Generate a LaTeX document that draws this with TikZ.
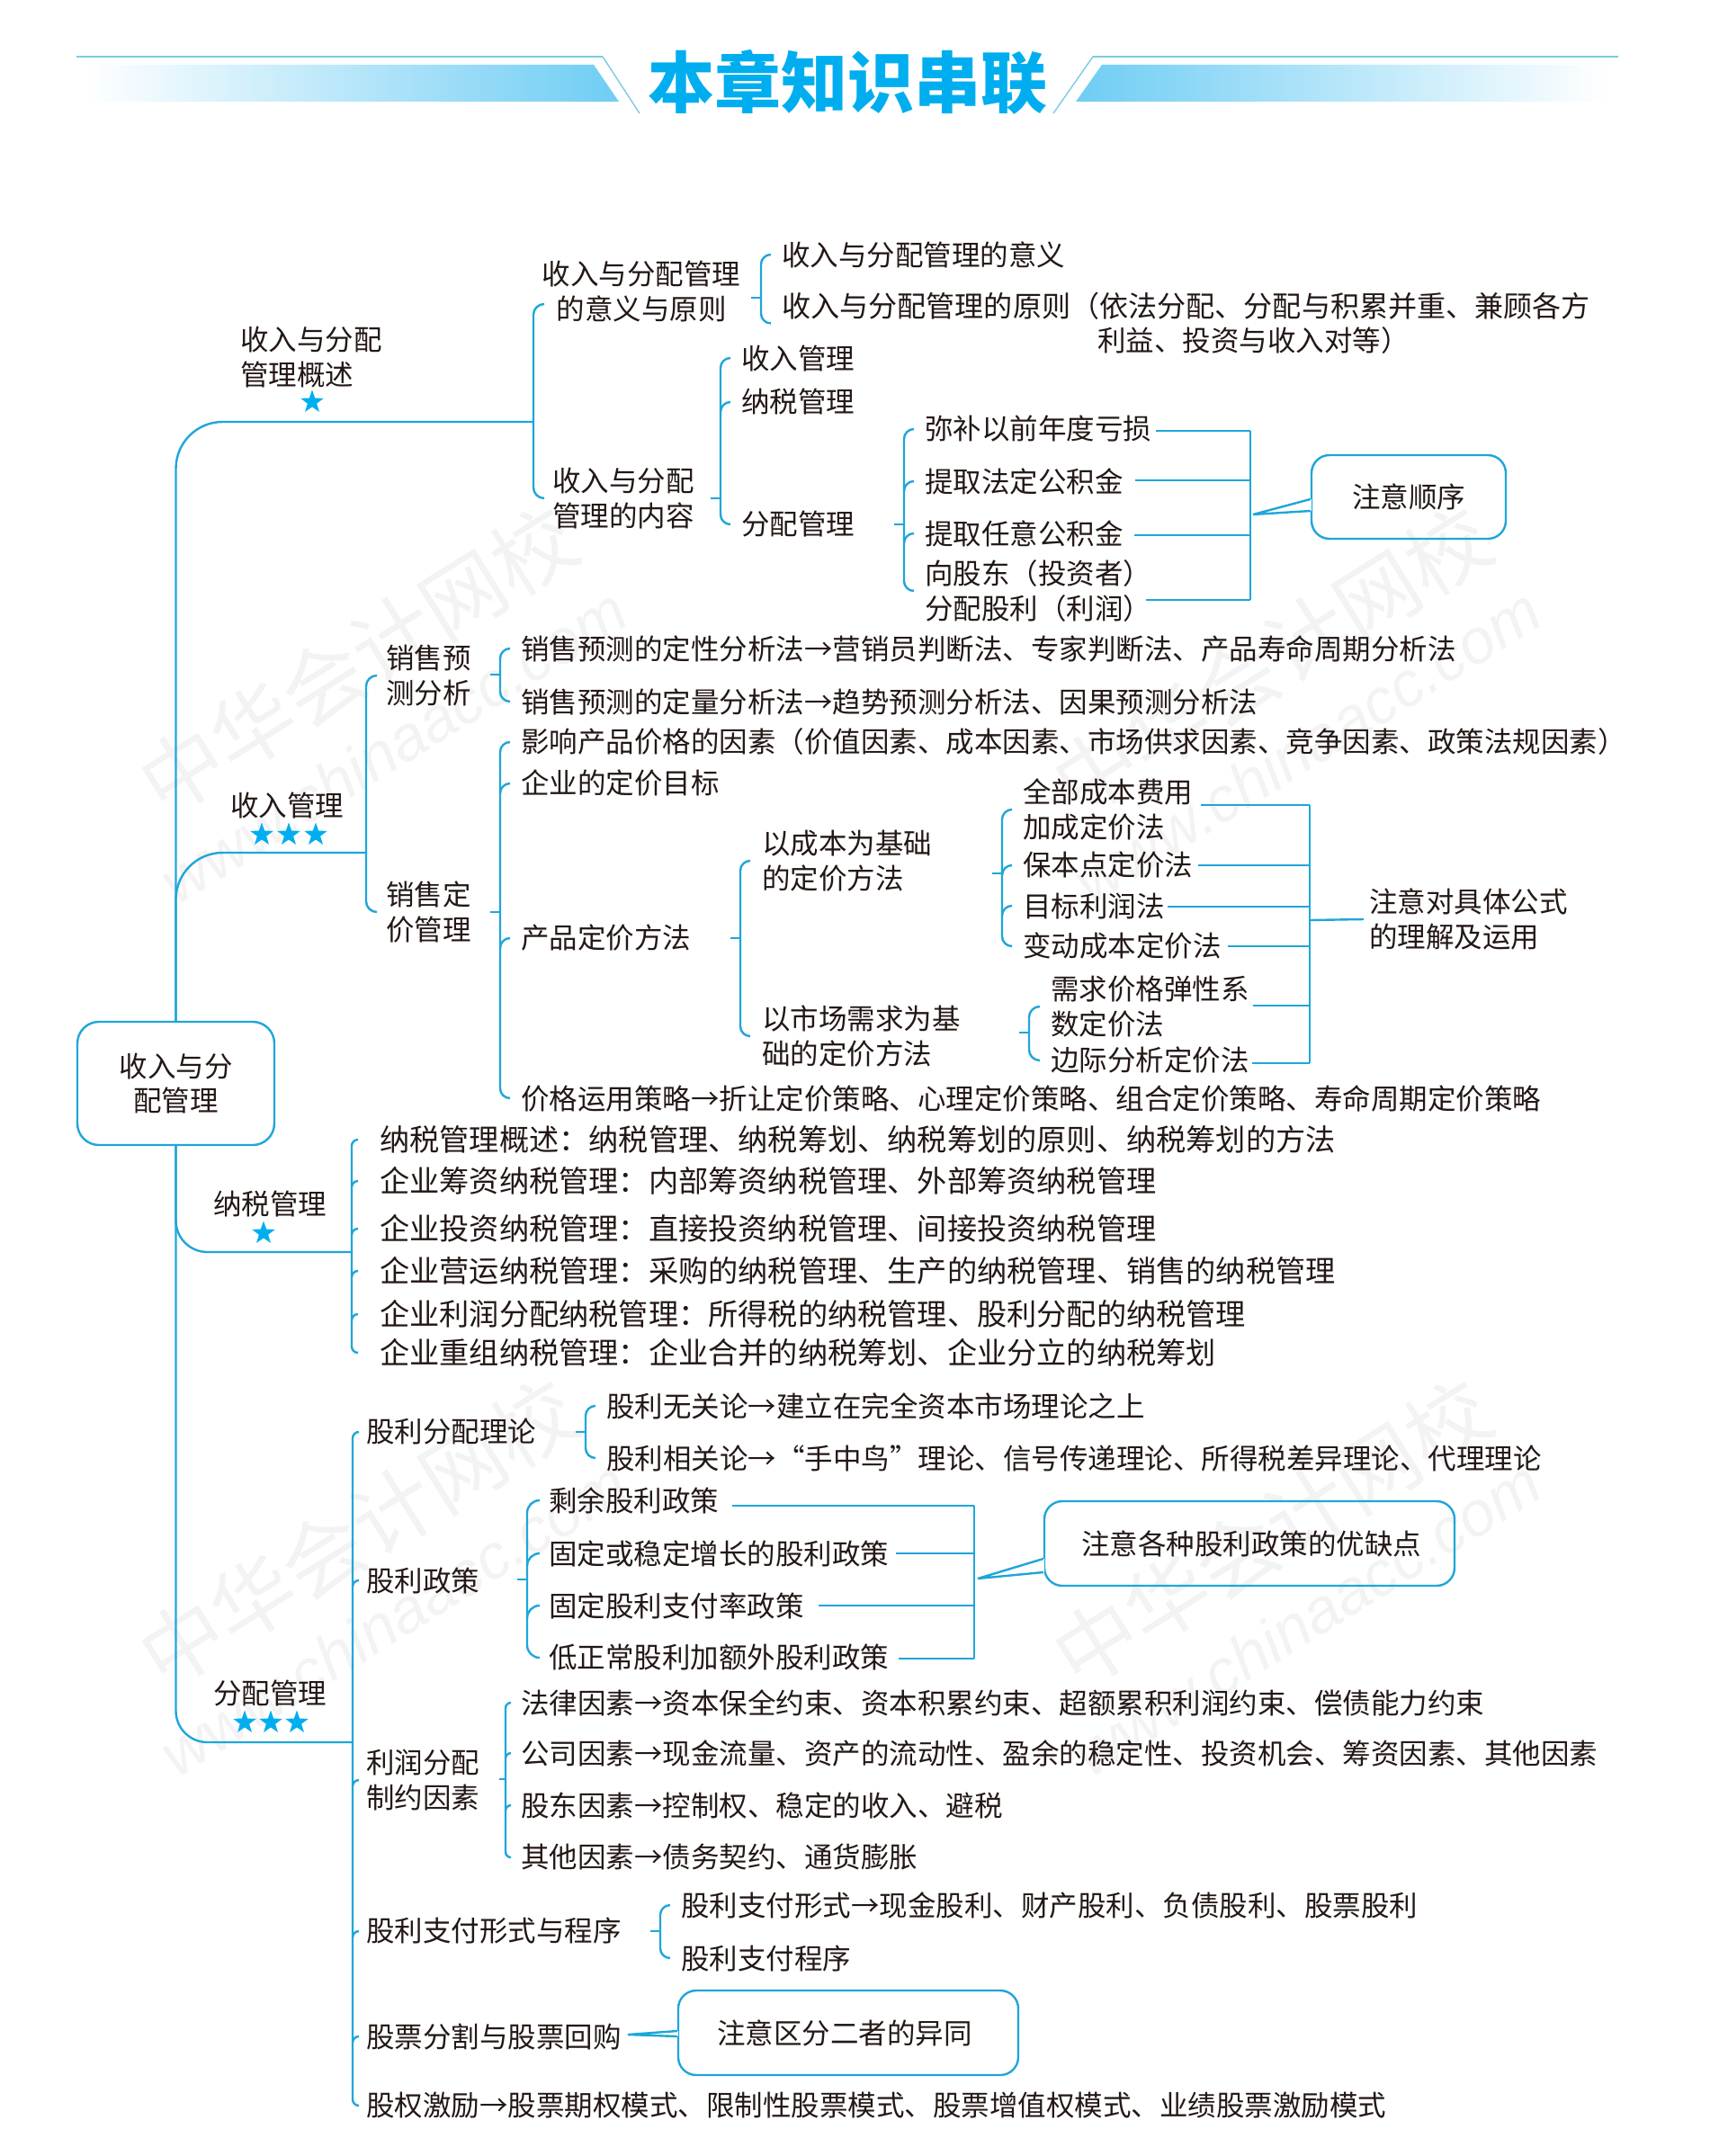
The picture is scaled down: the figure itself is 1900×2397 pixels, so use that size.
\documentclass[tikz,border=0pt]{standalone}
\usepackage{fontspec}
\setmainfont{Noto Sans CJK SC}
\newfontfamily\wmfont{Liberation Sans}
\usetikzlibrary{calc,shapes.geometric}
\definecolor{linec}{HTML}{1FA6D9}
\definecolor{starc}{HTML}{00AEEF}
\definecolor{bandc}{HTML}{6FCDF4}
\definecolor{barc}{HTML}{7CCBE0}
\definecolor{txtc}{HTML}{231815}
\definecolor{wmc}{HTML}{F3F3F3}
\tikzset{
    every node/.style={font=\fontsize{31.5}{38.5}\selectfont,text=txtc},
    lbl/.style={anchor=west,inner xsep=#1,xshift=-#1,inner ysep=0pt,align=left},
    lbl/.default=12pt,
    conn/.style={draw=linec,line width=2.4pt},
    callout/.style={draw=linec,line width=2.4pt,rounded corners=20pt,align=center},
    starmark/.style={star,star points=5,star point ratio=2.5,fill=starc,inner sep=0pt,minimum size=27pt},
}
\newcommand{\brspine}[3][11]{\draw[conn] (#2) to[out=180,in=90] ++(-#1,#1) -- ($(#3)+(-#1,-#1)$) to[out=-90,in=180] (#3);}
\newcommand{\brnub}[2][11]{\draw[conn] (#2) to[out=180,in=90] ++(-#1,#1);}
\newcommand{\brstem}[2][11]{\draw[conn] (#2) -- ++(-#1,0);}
\newcommand{\rline}[3][0,0]{\coordinate (rtmp) at ($(#2.east)+(#1)$); \draw[conn] (rtmp) -- (rtmp -| #3);}
\newcommand{\calltail}[4]{\draw[white,line width=3pt] (#1.west |- 0,#3) -- (#1.west |- 0,#4); \draw[conn] (#1.west |- 0,#3) -- (#2) -- (#1.west |- 0,#4);}
\begin{document}
\begin{tikzpicture}[x=1pt,y=-1pt]
    \useasboundingbox (0,0) rectangle (1900,2397);

    \foreach \wx in {0,1016}
      \foreach \wy in {0,970} {
        \node[rotate=32,font=\fontsize{92}{92}\selectfont,text=wmc] (wmcn\wx\wy) at (398+\wx,734+\wy) {中华会计网校};
        \node[rotate=32,font=\wmfont\itshape\fontsize{70}{70}\selectfont,text=wmc] (wmen\wx\wy) at (437+\wx,829+\wy) {www.chinaacc.com};
      }

    \draw[barc,line width=2.6pt] (85,63) -- (670,63);
    \draw[barc,line width=1.4pt] (670,63) -- (711,126);
    \draw[barc,line width=2.6pt] (1799,63) -- (1215,63);
    \draw[barc,line width=1.4pt] (1215,63) -- (1171,126);
    \shade[left color=white,right color=bandc] (94,72) -- (660,72) -- (688,113) -- (94,113) -- cycle;
    \shade[left color=bandc,right color=white] (1225,72) -- (1787,72) -- (1787,113) -- (1196,113) -- cycle;
    \node[font=\bfseries\fontsize{74}{74}\selectfont,text=starc] (title) at (942,91) {本章知识串联};

    \node[draw=linec,line width=2.4pt,rounded corners=24pt,minimum width=219pt,minimum height=137pt,align=center] (root) at (195.5,1204.5) {收入与分\\配管理};

    \coordinate (jGailan) at (593,469);
    \coordinate (jShouru) at (408,948);
    \coordinate (jNashui) at (392,1392);
    \coordinate (jFenpei) at (392,1937);
    \draw[conn,rounded corners=52pt] (root.north) |- (jGailan);
    \draw[conn,rounded corners=52pt] (root.north) |- (jShouru);
    \draw[conn,rounded corners=35pt] (root.south) |- (jNashui);
    \draw[conn,rounded corners=35pt] (root.south) |- (jFenpei);

    \node[lbl=0pt] (gailan) at (267,397) {收入与分配\\管理概述};
    \node[starmark] (st0) at (347,447) {};
    \node[lbl=0pt] (shouruL) at (256,895) {收入管理};
    \foreach \sx [count=\i] in {291,321,351}
      \node[starmark] (sa\i) at (\sx,928) {};
    \node[lbl=0pt] (nashuiL) at (237,1338) {纳税管理};
    \node[starmark] (st1) at (293,1371) {};
    \node[lbl=0pt] (fenpeiL) at (237,1882) {分配管理};
    \foreach \sx [count=\i] in {272,301,330}
      \node[starmark] (sb\i) at (\sx,1915) {};

    \node[align=center,inner xsep=12pt] (yiyi) at (713,324) {收入与分配管理\\的意义与原则};
    \node[lbl=9pt] (neirong) at (614,554) {收入与分配\\管理的内容};
    \coordinate (pYiyi) at (605,338);
    \brspine[12]{pYiyi}{neirong.west}

    \node[lbl] (yiyiA) at (869,283) {收入与分配管理的意义};
    \node[lbl] (yiyiB) at (869,359.5) {\fontsize{32.1}{38.5}\selectfont 收入与分配管理的原则（依法分配、分配与积累并重、兼顾各方\\\hspace*{351pt}\fontsize{31.5}{38.5}\selectfont 利益、投资与收入对等）};
    \brspine{yiyiA.west}{yiyiB.west}
    \coordinate (jYiyi) at (846,331);
    \brstem{jYiyi}

    \node[lbl] (nrA) at (824,398) {收入管理};
    \node[lbl] (nrB) at (824,447) {纳税管理};
    \node[lbl] (nrC) at (824,583) {分配管理};
    \brspine{nrA.west}{nrC.west}
    \brnub{nrB.west}
    \coordinate (jNeirong) at (801,554);
    \brstem{jNeirong}

    \node[lbl] (mibu) at (1028,477) {弥补以前年度亏损};
    \node[lbl] (fading) at (1028,535) {提取法定公积金};
    \node[lbl] (renyi) at (1028,593) {提取任意公积金};
    \node[lbl] (gudong) at (1028,657) {向股东（投资者）\\分配股利（利润）};
    \brspine{mibu.west}{gudong.west}
    \brnub{fading.west}
    \brnub{renyi.west}
    \coordinate (jFp) at (1005,583);
    \brstem{jFp}

    \coordinate (rbA1) at (1390,479);
    \coordinate (rbA2) at (1390,667);
    \draw[conn] (rbA1) -- (rbA2);
    \rline[-7,2]{mibu}{rbA1}
    \rline[1,-1]{fading}{rbA1}
    \rline[0,2]{renyi}{rbA1}
    \rline[-18,10]{gudong}{rbA1}
    \node[callout,minimum width=216pt,minimum height=93pt] (shunxu) at (1566,552.5) {注意顺序};
    \coordinate (tipA) at (1393,572);
    \calltail{shunxu}{tipA}{555}{568}

    \node[lbl=10pt] (yuce) at (429,751) {销售预\\测分析};
    \node[lbl=10pt] (dingjia) at (429,1014) {销售定\\价管理};
    \brspine[12]{yuce.west}{dingjia.west}

    \node[lbl] (ycA) at (579,721) {销售预测的定性分析法→营销员判断法、专家判断法、产品寿命周期分析法};
    \node[lbl] (ycB) at (579,780) {销售预测的定量分析法→趋势预测分析法、因果预测分析法};
    \brspine{ycA.west}{ycB.west}
    \coordinate (jYuce) at (556,750);
    \brstem{jYuce}

    \node[lbl] (djA) at (579,825) {影响产品价格的因素（价值因素、成本因素、市场供求因素、竞争因素、政策法规因素）};
    \node[lbl] (djB) at (579,871) {企业的定价目标};
    \node[lbl] (djC) at (579,1043) {产品定价方法};
    \node[lbl] (djD) at (579,1221) {价格运用策略→折让定价策略、心理定价策略、组合定价策略、寿命周期定价策略};
    \brspine{djA.west}{djD.west}
    \brnub{djB.west}
    \brnub{djC.west}
    \coordinate (jDingjia) at (556,1014);
    \brstem{jDingjia}

    \node[lbl=13pt] (chengben) at (847,957) {以成本为基础\\的定价方法};
    \node[lbl=13pt] (shichang) at (847,1152) {以市场需求为基\\础的定价方法};
    \brspine[11]{chengben.west}{shichang.west}
    \coordinate (jFangfa) at (823,1043);
    \brstem{jFangfa}

    \node[lbl] (cbA) at (1137,900) {全部成本费用\\加成定价法};
    \node[lbl] (cbB) at (1137,962) {保本点定价法};
    \node[lbl] (cbC) at (1137,1007) {目标利润法};
    \node[lbl] (cbD) at (1137,1052) {变动成本定价法};
    \brspine{cbA.west}{cbD.west}
    \brnub{cbB.west}
    \brnub{cbC.west}
    \coordinate (jCb) at (1114,971);
    \brstem{jCb}

    \node[lbl] (scA) at (1168,1119) {需求价格弹性系\\数定价法};
    \node[lbl] (scB) at (1168,1179) {边际分析定价法};
    \brspine[12]{scA.west}{scB.west}
    \coordinate (jSc) at (1144,1148);
    \brstem{jSc}

    \coordinate (rbB1) at (1456,895);
    \coordinate (rbB2) at (1456,1182);
    \draw[conn] (rbB1) -- (rbB2);
    \rline[-3,-5]{cbA}{rbB1}
    \rline[-6,0]{cbB}{rbB1}
    \rline[-9,1]{cbC}{rbB1}
    \rline[-5,0]{cbD}{rbB1}
    \rline[-8,-1]{scA}{rbB1}
    \rline[-9,3]{scB}{rbB1}
    \node[lbl=6pt] (gongshi) at (1522,1022) {注意对具体公式\\的理解及运用};
    \coordinate (jNote) at (1456,1023);
    \draw[conn] (jNote) -- (gongshi.west);

    \foreach \nm/\y/\txt in {
        nsA/1267/纳税管理概述：纳税管理、纳税筹划、纳税筹划的原则、纳税筹划的方法,
        nsB/1313/企业筹资纳税管理：内部筹资纳税管理、外部筹资纳税管理,
        nsC/1366/企业投资纳税管理：直接投资纳税管理、间接投资纳税管理,
        nsD/1413/企业营运纳税管理：采购的纳税管理、生产的纳税管理、销售的纳税管理,
        nsE/1461/企业利润分配纳税管理：所得税的纳税管理、股利分配的纳税管理,
        nsF/1504/企业重组纳税管理：企业合并的纳税筹划、企业分立的纳税筹划}
      \node[lbl=24pt,font=\fontsize{33.2}{38.5}\selectfont] (\nm) at (422,\y) {\txt};
    \brspine[7]{nsA.west}{nsF.west}
    \foreach \nm in {nsB,nsC,nsD,nsE}
      \brnub[7]{\nm.west};

    \node[lbl=8pt] (fpA) at (407,1592) {股利分配理论};
    \node[lbl=8pt] (fpB) at (407,1757) {股利政策};
    \node[lbl=8pt] (fpC) at (407,1979) {利润分配\\制约因素};
    \node[lbl=8pt] (fpD) at (407,2147) {股利支付形式与程序};
    \node[lbl=8pt] (fpE) at (407,2264) {股票分割与股票回购};
    \node[lbl=8pt] (fpF) at (407,2341) {股权激励→股票期权模式、限制性股票模式、股票增值权模式、业绩股票激励模式};
    \brspine[7]{fpA.west}{fpF.west}
    \foreach \nm in {fpB,fpC,fpD,fpE}
      \brnub[7]{\nm.west};

    \node[lbl] (llA) at (674,1563) {股利无关论→建立在完全资本市场理论之上};
    \node[lbl] (llB) at (674,1621) {股利相关论→“手中鸟”理论、信号传递理论、所得税差异理论、代理理论};
    \brspine{llA.west}{llB.west}
    \coordinate (jLilun) at (651,1592);
    \brstem{jLilun}

    \node[lbl=10pt] (zcA) at (610,1668) {剩余股利政策};
    \node[lbl=10pt] (zcB) at (610,1727) {固定或稳定增长的股利政策};
    \node[lbl=10pt] (zcC) at (610,1785) {固定股利支付率政策};
    \node[lbl=10pt] (zcD) at (610,1843) {低正常股利加额外股利政策};
    \brspine[14]{zcA.west}{zcD.west}
    \brnub[14]{zcB.west}
    \brnub[14]{zcC.west}
    \coordinate (jZhengce) at (586,1756);
    \brstem{jZhengce}

    \coordinate (rbC1) at (1083,1674);
    \coordinate (rbC2) at (1083,1844);
    \draw[conn] (rbC1) -- (rbC2);
    \rline[5,6]{zcA}{rbC1}
    \rline[-2,0]{zcB}{rbC1}
    \rline[6,0]{zcC}{rbC1}
    \rline[1,1]{zcD}{rbC1}
    \node[callout,minimum width=456pt,minimum height=94pt] (youque) at (1389,1716) {\hspace*{4pt}注意各种股利政策的优缺点};
    \coordinate (tipB) at (1087,1755);
    \calltail{youque}{tipB}{1733}{1748}

    \node[lbl=11pt] (yzA) at (579,1893) {法律因素→资本保全约束、资本积累约束、超额累积利润约束、偿债能力约束};
    \node[lbl=11pt] (yzB) at (579,1949) {公司因素→现金流量、资产的流动性、盈余的稳定性、投资机会、筹资因素、其他因素};
    \node[lbl=11pt] (yzC) at (579,2007) {股东因素→控制权、稳定的收入、避税};
    \node[lbl=11pt] (yzD) at (579,2065) {其他因素→债务契约、通货膨胀};
    \brspine[6]{yzA.west}{yzD.west}
    \brnub[6]{yzB.west}
    \brnub[6]{yzC.west}
    \coordinate (jYinsu) at (562,1978);
    \brstem[7]{jYinsu}

    \node[lbl] (zfA) at (757,2118) {股利支付形式→现金股利、财产股利、负债股利、股票股利};
    \node[lbl] (zfB) at (757,2177) {股利支付程序};
    \brspine{zfA.west}{zfB.west}
    \coordinate (jZhifu) at (734,2147);
    \brstem{jZhifu}

    \node[callout,minimum width=378pt,minimum height=94pt] (yitong) at (943,2260) {\hspace*{-8pt}注意区分二者的异同};
    \coordinate (tipC) at (698,2262);
    \calltail{yitong}{tipC}{2258}{2264}
\end{tikzpicture}
\end{document}
